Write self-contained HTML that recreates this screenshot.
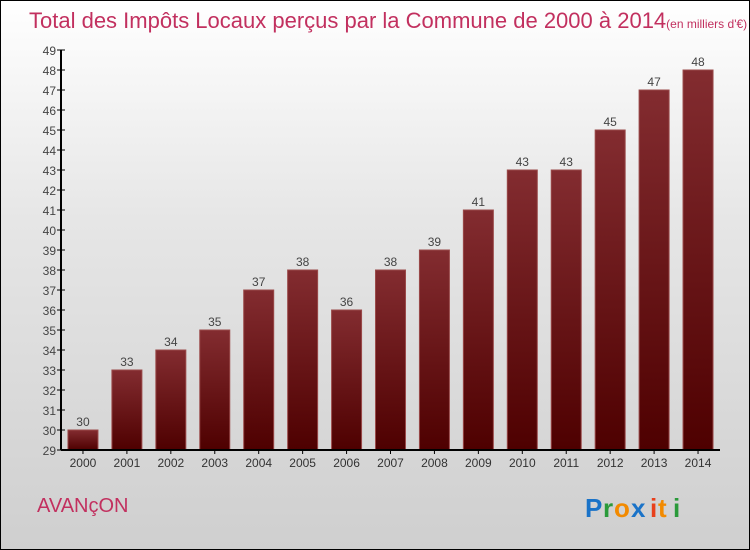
<!DOCTYPE html>
<html><head><meta charset="utf-8"><style>
html,body{margin:0;padding:0}
body{width:750px;height:550px;overflow:hidden;font-family:"Liberation Sans",sans-serif}
#wrap{position:relative;width:748px;height:548px;border:1px solid #000;background:linear-gradient(#ffffff 0%,#e6e6e6 40%,#cfcfcf 100%)}
</style></head><body>
<div id="wrap">
<svg id="chart" width="748" height="548" style="position:absolute;left:0;top:0">
<defs>
<linearGradient id="bg" x1="0" y1="0" x2="0" y2="1">
<stop offset="0" stop-color="#832c30"/><stop offset="1" stop-color="#4e0000"/>
</linearGradient>
</defs>
<text x="28" y="27" font-size="22" fill="#c2305f">Total des Impôts Locaux perçus par la Commune de 2000 à 2014<tspan font-size="12">(en milliers d'€)</tspan></text>
<g id="grid"></g>
<g id="bars"></g>
<g id="axes"></g>
<text x="36" y="511" font-size="20" fill="#c2305f">AVANçON</text>
<g font-size="26" font-weight="bold" font-family="Liberation Sans, sans-serif">
<text x="584" y="516" fill="#1a73c8">P</text><text x="602" y="516" fill="#2a9a3a">r</text><text x="613" y="516" fill="#f28a00">o</text><text x="630" y="516" fill="#1a73c8">x</text><text x="649" y="516" fill="#e8401c">i</text><text x="657" y="516" fill="#f28a00">t</text><text x="672" y="516" fill="#2a9a3a">i</text>
</g>
</svg>
</div>
<script>
const years=["2000","2001","2002","2003","2004","2005","2006","2007","2008","2009","2010","2011","2012","2013","2014"];
const values=[30,33,34,35,37,38,36,38,39,41,43,43,45,47,48];
const yTicks=[29,30,31,32,33,34,35,36,37,38,39,40,41,42,43,44,45,46,47,48,49];
const NS="http://www.w3.org/2000/svg";
const x0=60,x1=719,yBase=449,yMin=29,yMax=49,yTop=49;
const step=(x1-x0)/years.length;
function yS(v){return yBase-(v-yMin)*(yBase-yTop)/(yMax-yMin);}
function xS(i){return x0+step*(i+0.5);}
function mk(tag,attrs,parent){const e=document.createElementNS(NS,tag);for(const k in attrs)e.setAttribute(k,attrs[k]);parent.appendChild(e);return e;}
const bars=document.getElementById('bars'),axes=document.getElementById('axes');
values.forEach((v,i)=>{
 const r=mk('rect',{x:xS(i)-15,y:yS(v),width:30,height:yBase-yS(v),fill:'url(#bg)',stroke:'#9a4a4a','stroke-width':1},bars);
 
 
 const t=mk('text',{x:xS(i),y:yS(v)-4,'text-anchor':'middle','font-size':12,fill:'#444'},bars);
 t.textContent=v;
 
 
 const xl=mk('text',{x:xS(i),y:466,'text-anchor':'middle','font-size':12,fill:'#333'},axes);
 xl.textContent=years[i];
 
 
 mk('line',{x1:xS(i),x2:xS(i),y1:yBase,y2:yBase+4,stroke:'#000'},axes);
});
yTicks.forEach(v=>{
 mk('line',{x1:x0-4,x2:x0+4,y1:yS(v),y2:yS(v),stroke:'#000'},axes);
 const t=mk('text',{x:x0-5,y:yS(v)+5,'text-anchor':'end','font-size':12,fill:'#444'},axes);
 t.textContent=v;
 
 
});
const ya=mk('line',{x1:x0,x2:x0,y1:yS(yMax),y2:yBase,stroke:'#000','stroke-width':2},axes);


const xa=mk('line',{x1:x0,x2:x1,y1:yBase,y2:yBase,stroke:'#000','stroke-width':2},axes);


</script>
</body></html>
